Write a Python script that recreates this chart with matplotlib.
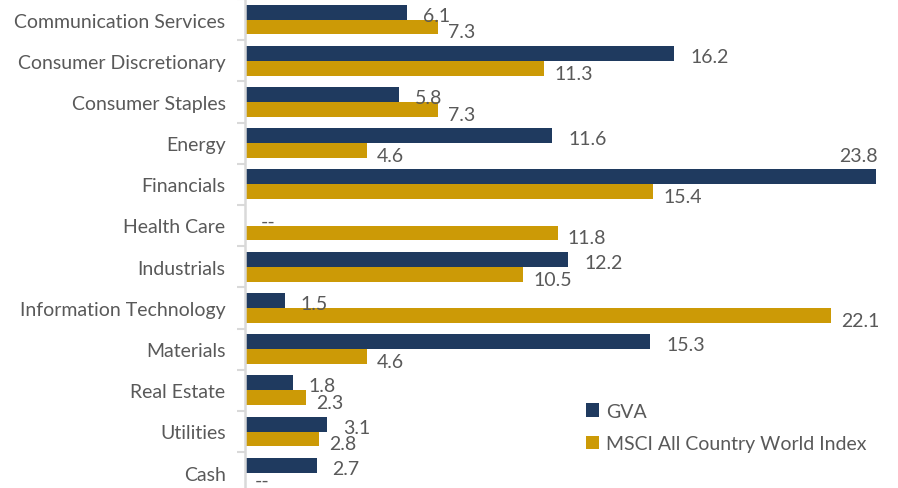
import matplotlib
matplotlib.use("Agg")
import matplotlib.pyplot as plt
from matplotlib.patches import Patch
import numpy as np

categories = ["Communication Services", "Consumer Discretionary", "Consumer Staples",
              "Energy", "Financials", "Health Care", "Industrials",
              "Information Technology", "Materials", "Real Estate", "Utilities", "Cash"]
gva = [6.1, 16.2, 5.8, 11.6, 23.8, None, 12.2, 1.5, 15.3, 1.8, 3.1, 2.7]
msci = [7.3, 11.3, 7.3, 4.6, 15.4, 11.8, 10.5, 22.1, 4.6, 2.3, 2.8, None]
series_names = ["GVA", "MSCI All Country World Index"]

NAVY = "#1f3a5f"
GOLD = "#cc9a06"
TXT = "#595959"
GRID = "#d9d9d9"

plt.rcParams['font.family'] = ['Lato', 'DejaVu Sans']

fig = plt.figure(figsize=(8.98, 4.89), dpi=100)
W, H = 898, 489
top_px = -0.1
bot_px = 494.3
ax = fig.add_axes([245 / W, (H - bot_px) / H, 26.5 * 25 / W, (bot_px - top_px) / H])

y = np.arange(len(categories))
bh = 0.36
gva_vals = [v if v is not None else 0 for v in gva]
msci_vals = [v if v is not None else 0 for v in msci]
ax.barh(y - bh / 2, gva_vals, height=bh, color=NAVY, label=series_names[0])
ax.barh(y + bh / 2, msci_vals, height=bh, color=GOLD, label=series_names[1])

fs = 14
gmax = max(gva_vals)
for i, v in enumerate(gva):
    txt = f"{v:.1f}" if v is not None else "--"
    if v is not None and v == gmax:
        # longest bar: label sits above its end, as in the reference
        ax.annotate(txt, xy=(v, i - bh), xytext=(2, 14),
                    textcoords="offset pixels", ha="right", va="center", fontsize=fs, color=TXT)
    else:
        ax.annotate(txt, xy=(v if v is not None else 0, i - bh / 2), xytext=(16, -3),
                    textcoords="offset pixels", ha="left", va="center", fontsize=fs, color=TXT)
for i, v in enumerate(msci):
    txt = f"{v:.1f}" if v is not None else "--"
    ax.annotate(txt, xy=(v if v is not None else 0, i + bh / 2), xytext=(10, -5 if v is not None else 0),
                textcoords="offset pixels", ha="left", va="center", fontsize=fs, color=TXT)

ax.set_xlim(0, 25)
ax.set_ylim(len(categories) - 0.5, -0.5)
ax.set_yticks(y)
ax.set_yticklabels(categories, fontsize=fs, color=TXT)
ax.set_yticks(np.arange(-0.5, len(categories) + 0.5, 1), minor=True)
ax.tick_params(axis="y", which="major", length=0, pad=14)
ax.tick_params(axis="y", which="minor", length=6, color=GRID, width=1.5)
ax.set_xticks([])
for s in ["top", "right", "bottom"]:
    ax.spines[s].set_visible(False)
ax.spines["left"].set_color(GRID)
ax.spines["left"].set_linewidth(1.8)

handles = [Patch(facecolor=NAVY), Patch(facecolor=GOLD)]
fig.legend(handles, series_names, loc="upper left", bbox_to_anchor=(578 / W, 1 - 396 / H),
           frameon=False, fontsize=fs, labelcolor=TXT, handlelength=0.7, handleheight=0.7,
           handletextpad=0.35, labelspacing=0.8, borderaxespad=0)

fig.savefig("out.png", dpi=100)
